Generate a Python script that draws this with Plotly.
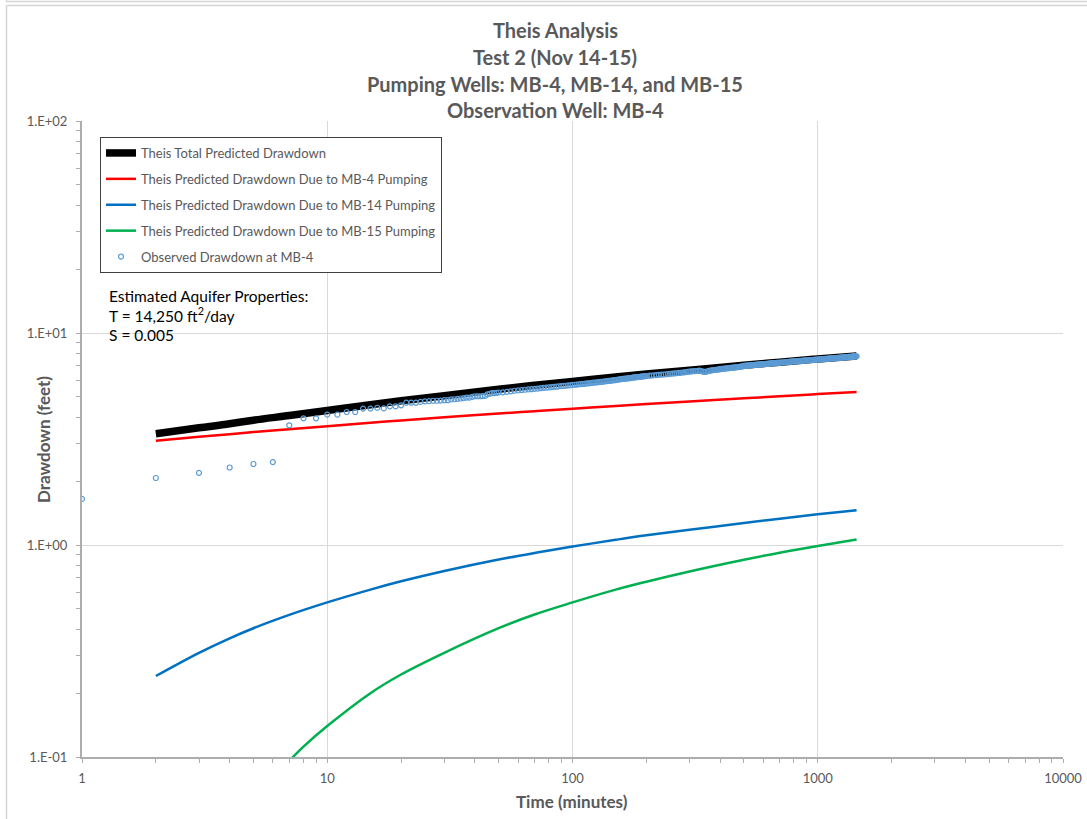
import plotly.graph_objects as go

# ---- Theis model curves (time in minutes, drawdown in feet) ----
model_time = [2, 3, 4, 5, 7, 10, 15, 20, 30, 50, 70, 100, 150, 200, 300, 500, 700, 1000, 1440]
total_drawdown = [3.35, 3.57, 3.73, 3.88, 4.08, 4.31, 4.59, 4.79, 5.06, 5.43, 5.67, 5.91, 6.20,
                  6.40, 6.68, 7.04, 7.28, 7.54, 7.79]
mb4_drawdown = [3.10, 3.24, 3.33, 3.41, 3.52, 3.63, 3.77, 3.87, 4.00, 4.17, 4.28, 4.39, 4.53,
                4.62, 4.75, 4.92, 5.03, 5.15, 5.27]
mb14_drawdown = [0.241, 0.310, 0.363, 0.405, 0.468, 0.536, 0.616, 0.674, 0.754, 0.854, 0.917,
                 0.983, 1.058, 1.111, 1.18, 1.27, 1.33, 1.395, 1.46]
mb15_time = [6, 7, 8, 10, 15, 20, 30, 50, 70, 100, 150, 200, 300, 500, 700, 1000, 1440]
mb15_drawdown = [0.080, 0.096, 0.112, 0.140, 0.200, 0.245, 0.31, 0.405, 0.47, 0.536, 0.616,
                 0.671, 0.75, 0.852, 0.92, 0.99, 1.062]

# ---- Observed drawdown at MB-4 (logger record) ----
obs_time = [
    # every minute, 1-50
    1, 2, 3, 4, 5, 6, 7, 8, 9, 10,
    11, 12, 13, 14, 15, 16, 17, 18, 19, 20,
    21, 22, 23, 24, 25, 26, 27, 28, 29, 30,
    31, 32, 33, 34, 35, 36, 37, 38, 39, 40,
    41, 42, 43, 44, 45, 46, 47, 48, 49, 50,
    # every 2 minutes, 52-200
    52, 54, 56, 58, 60, 62, 64, 66, 68, 70,
    72, 74, 76, 78, 80, 82, 84, 86, 88, 90,
    92, 94, 96, 98, 100,
    102, 104, 106, 108, 110, 112, 114, 116, 118, 120,
    122, 124, 126, 128, 130, 132, 134, 136, 138, 140,
    142, 144, 146, 148, 150, 152, 154, 156, 158, 160,
    162, 164, 166, 168, 170, 172, 174, 176, 178, 180,
    182, 184, 186, 188, 190, 192, 194, 196, 198, 200,
    # every 5 minutes, 205-700
    205, 210, 215, 220, 225, 230, 235, 240, 245, 250,
    255, 260, 265, 270, 275, 280, 285, 290, 295, 300,
    305, 310, 315, 320, 325, 330, 335, 340, 345, 350,
    355, 360, 365, 370, 375, 380, 385, 390, 395, 400,
    405, 410, 415, 420, 425, 430, 435, 440, 445, 450,
    455, 460, 465, 470, 475, 480, 485, 490, 495, 500,
    505, 510, 515, 520, 525, 530, 535, 540, 545, 550,
    555, 560, 565, 570, 575, 580, 585, 590, 595, 600,
    605, 610, 615, 620, 625, 630, 635, 640, 645, 650,
    655, 660, 665, 670, 675, 680, 685, 690, 695, 700,
    # every 10 minutes, 710-1440
    710, 720, 730, 740, 750, 760, 770, 780, 790, 800,
    810, 820, 830, 840, 850, 860, 870, 880, 890, 900,
    910, 920, 930, 940, 950, 960, 970, 980, 990, 1000,
    1010, 1020, 1030, 1040, 1050, 1060, 1070, 1080, 1090, 1100,
    1110, 1120, 1130, 1140, 1150, 1160, 1170, 1180, 1190, 1200,
    1210, 1220, 1230, 1240, 1250, 1260, 1270, 1280, 1290, 1300,
    1310, 1320, 1330, 1340, 1350, 1360, 1370, 1380, 1390, 1400,
    1410, 1420, 1430, 1440,
]
obs_drawdown = [
    1.65, 2.07, 2.19, 2.32, 2.41, 2.46, 3.67, 3.96, 3.96, 4.12,
    4.12, 4.24, 4.24, 4.40, 4.40, 4.44, 4.41, 4.51, 4.51, 4.56,
    4.69, 4.69, 4.69, 4.73, 4.76, 4.77, 4.79, 4.79, 4.80, 4.82,
    4.82, 4.86, 4.87, 4.89, 4.91, 4.93, 4.96, 4.96, 5.00, 5.03,
    5.03, 5.03, 5.04, 5.05, 5.14, 5.17, 5.21, 5.21, 5.22, 5.24,
    5.25, 5.28, 5.31, 5.34, 5.36, 5.38, 5.40, 5.42, 5.43, 5.45,
    5.47, 5.49, 5.51, 5.52, 5.54, 5.55, 5.57, 5.58, 5.60, 5.62,
    5.63, 5.64, 5.66, 5.67, 5.69,
    5.70, 5.71, 5.73, 5.74, 5.75, 5.76, 5.78, 5.79, 5.80, 5.82,
    5.83, 5.84, 5.85, 5.87, 5.88, 5.89, 5.90, 5.92, 5.93, 5.94,
    5.95, 5.96, 5.98, 5.99, 6.00, 6.02, 6.03, 6.05, 6.06, 6.07,
    6.08, 6.09, 6.10, 6.11, 6.12, 6.13, 6.14, 6.16, 6.17, 6.18,
    6.19, 6.19, 6.20, 6.21, 6.22, 6.23, 6.24, 6.25, 6.26, 6.27,
    6.29, 6.30, 6.32, 6.33, 6.35, 6.36, 6.37, 6.39, 6.40, 6.42,
    6.43, 6.45, 6.46, 6.48, 6.49, 6.51, 6.52, 6.54, 6.56, 6.58,
    6.59, 6.60, 6.61, 6.62, 6.63, 6.64, 6.62, 6.58, 6.55, 6.56,
    6.60, 6.63, 6.65, 6.66, 6.68, 6.69, 6.70, 6.72, 6.73, 6.75,
    6.77, 6.78, 6.79, 6.80, 6.81, 6.82, 6.83, 6.84, 6.85, 6.86,
    6.87, 6.88, 6.89, 6.90, 6.91, 6.93, 6.94, 6.96, 6.97, 6.99,
    7.00, 7.01, 7.01, 7.02, 7.03, 7.04, 7.05, 7.05, 7.06, 7.07,
    7.07, 7.08, 7.09, 7.09, 7.10, 7.11, 7.11, 7.12, 7.12, 7.13,
    7.14, 7.14, 7.15, 7.16, 7.16, 7.17, 7.18, 7.18, 7.19, 7.20,
    7.20, 7.21, 7.21, 7.22, 7.22, 7.23, 7.23, 7.24, 7.24, 7.25,
    7.26, 7.27, 7.28, 7.29, 7.30, 7.31, 7.32, 7.33, 7.34, 7.35,
    7.35, 7.36, 7.37, 7.38, 7.39, 7.39, 7.40, 7.41, 7.42, 7.43,
    7.43, 7.44, 7.45, 7.46, 7.46, 7.47, 7.48, 7.49, 7.49, 7.50,
    7.51, 7.51, 7.52, 7.53, 7.53, 7.54, 7.55, 7.55, 7.56, 7.57,
    7.57, 7.58, 7.59, 7.59, 7.60, 7.60, 7.61, 7.62, 7.62, 7.63,
    7.64, 7.64, 7.65, 7.65, 7.66, 7.66, 7.67, 7.68, 7.68, 7.69,
    7.69, 7.70, 7.71, 7.71, 7.72, 7.72, 7.73, 7.73, 7.74, 7.75,
    7.75, 7.76, 7.76, 7.77,
]

# ---- Axis ticks and text ----
x_tick_vals = [1, 10, 100, 1000, 10000]
x_tick_text = ["1", "10", "100", "1000", "10000"]
y_tick_vals = [0.1, 1, 10, 100]
y_tick_text = ["1.E-01", "1.E+00", "1.E+01", "1.E+02"]
x_minor_vals = [m * 10 ** e for e in range(0, 4) for m in range(2, 10)]
y_minor_vals = [m * 10.0 ** e for e in range(-1, 2) for m in range(2, 10)]

title_lines = [
    "Theis Analysis",
    "Test 2 (Nov 14-15)",
    "Pumping Wells: MB-4, MB-14, and MB-15",
    "Observation Well: MB-4",
]
property_lines = [
    "Estimated Aquifer Properties:",
    "T = 14,250 ft<sup>2</sup>/day",
    "S = 0.005",
]

FONT = "Lato"
GRAY_TEXT = "#595959"
AXIS_GRAY = "#ADADAD"

# page geometry (pixels) of the plotting area
W_PX, H_PX = 1087, 819
L, R, T, B = 82, 1063, 121, 757


def px_x(px):
    return (px - L) / (R - L)


def px_y(py):
    return (B - py) / (B - T)


fig = go.Figure()

fig.add_trace(go.Scatter(
    x=model_time, y=total_drawdown, mode="lines",
    name="Theis Total Predicted Drawdown", legendgroup="a",
    line=dict(color="#000000", width=7.5, shape="spline", smoothing=1),
))
fig.add_trace(go.Scatter(
    x=model_time, y=mb4_drawdown, mode="lines",
    name="Theis Predicted Drawdown Due to MB-4 Pumping", legendgroup="b",
    line=dict(color="#FF0000", width=2.5, shape="spline", smoothing=1),
))
fig.add_trace(go.Scatter(
    x=model_time, y=mb14_drawdown, mode="lines",
    name="Theis Predicted Drawdown Due to MB-14 Pumping", legendgroup="c",
    line=dict(color="#0070C0", width=2.5, shape="spline", smoothing=1),
))
fig.add_trace(go.Scatter(
    x=mb15_time, y=mb15_drawdown, mode="lines",
    name="Theis Predicted Drawdown Due to MB-15 Pumping", legendgroup="d",
    line=dict(color="#00B050", width=2.5, shape="spline", smoothing=1),
))
fig.add_trace(go.Scatter(
    x=obs_time, y=obs_drawdown, mode="markers",
    name="Observed Drawdown at MB-4", legendgroup="e",
    marker=dict(symbol="circle-open", size=5, color="#5B9BD5",
                line=dict(width=1.2, color="#5B9BD5")),
))

axis_common = dict(
    type="log",
    automargin=False,
    showgrid=True, gridcolor="#D9D9D9", gridwidth=1,
    showline=True, linecolor=AXIS_GRAY, linewidth=2,
    ticks="outside", ticklen=4, tickcolor=AXIS_GRAY, tickwidth=1,
    tickfont=dict(family=FONT, size=13, color=GRAY_TEXT),
    zeroline=False,
)

fig.update_xaxes(
    **axis_common,
    range=[0, 4],
    tickvals=x_tick_vals, ticktext=x_tick_text,
    minor=dict(tickvals=x_minor_vals, ticks="outside", ticklen=4,
               tickcolor=AXIS_GRAY, showgrid=False),
    ticklabelstandoff=4,
)
fig.update_yaxes(
    **axis_common,
    range=[-1, 2],
    tickvals=y_tick_vals, ticktext=y_tick_text,
    minor=dict(tickvals=y_minor_vals, ticks="outside", ticklen=4,
               tickcolor=AXIS_GRAY, showgrid=False),
    ticklabelstandoff=6,
)

annotations = []
for line, py in zip(title_lines, [30, 57, 84, 110.5]):
    annotations.append(dict(
        text=f"<b>{line}</b>", xref="paper", yref="paper",
        x=px_x(555), y=px_y(py), xanchor="center", yanchor="middle",
        showarrow=False, font=dict(family=FONT, size=20, color=GRAY_TEXT),
    ))
for line, py in zip(property_lines, [295.5, 314, 335]):
    annotations.append(dict(
        text=line, xref="paper", yref="paper",
        x=px_x(107), y=px_y(py), xanchor="left", yanchor="middle",
        showarrow=False, font=dict(family=FONT, size=15.5, color="#000000"),
    ))
annotations.append(dict(
    text="<b>Time (minutes)</b>", xref="paper", yref="paper",
    x=px_x(572), y=px_y(801), xanchor="center", yanchor="middle",
    showarrow=False, font=dict(family=FONT, size=17, color=GRAY_TEXT),
))
annotations.append(dict(
    text="<b>Drawdown (feet)</b>", xref="paper", yref="paper",
    x=px_x(44), y=px_y(440), xanchor="center", yanchor="middle", textangle=-90,
    showarrow=False, font=dict(family=FONT, size=17, color=GRAY_TEXT),
))

shapes = [
    # white panel behind the aquifer-properties text
    dict(type="rect", xref="paper", yref="paper", layer="between",
         x0=px_x(82), x1=px_x(377), y0=px_y(347), y1=px_y(281),
         fillcolor="white", line=dict(width=0)),
    # chart-area frame lines
    dict(type="line", xref="paper", yref="paper",
         x0=px_x(6.5), x1=px_x(W_PX), y0=px_y(5.5), y1=px_y(5.5),
         line=dict(color="#D4D4D4", width=1.5)),
    dict(type="line", xref="paper", yref="paper",
         x0=px_x(6.5), x1=px_x(6.5), y0=px_y(5.5), y1=px_y(H_PX),
         line=dict(color="#D4D4D4", width=1.5)),
    dict(type="line", xref="paper", yref="paper",
         x0=px_x(6.5), x1=px_x(W_PX), y0=px_y(1.5), y1=px_y(1.5),
         line=dict(color="#D4D4D4", width=1.5)),
    dict(type="line", xref="paper", yref="paper",
         x0=px_x(6.5), x1=px_x(6.5), y0=px_y(0), y1=px_y(1.5),
         line=dict(color="#D4D4D4", width=1.5)),
]

fig.update_layout(
    width=W_PX, height=H_PX, autosize=False,
    margin=dict(l=L, r=W_PX - R, t=T, b=H_PX - B, pad=0, autoexpand=False),
    paper_bgcolor="white", plot_bgcolor="white",
    showlegend=True,
    legend=dict(
        x=px_x(100), y=px_y(137), xanchor="left", yanchor="top",
        bgcolor="white", bordercolor="#404040", borderwidth=1,
        font=dict(family=FONT, size=13, color=GRAY_TEXT),
        tracegroupgap=6, traceorder="grouped",
    ),
    annotations=annotations,
    shapes=shapes,
)

fig.write_html("out.html")
